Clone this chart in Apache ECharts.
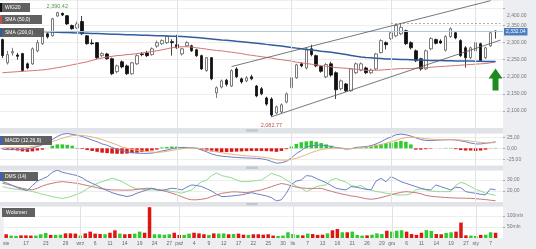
<!DOCTYPE html>
<html><head><meta charset="utf-8">
<script src="https://cdn.jsdelivr.net/npm/echarts@6/dist/echarts.min.js"></script>
<style>html,body{margin:0;padding:0;background:#eceef1;}#c{width:536px;height:249px;}</style>
</head><body><div id="c"></div>
<script>
const dates = [
'2018-08-10','2018-08-13','2018-08-14','2018-08-16','2018-08-17','2018-08-20','2018-08-21','2018-08-22','2018-08-23','2018-08-24',
'2018-08-27','2018-08-28','2018-08-29','2018-08-30','2018-08-31',
'2018-09-03','2018-09-04','2018-09-05','2018-09-06','2018-09-07','2018-09-10','2018-09-11','2018-09-12','2018-09-13','2018-09-14',
'2018-09-17','2018-09-18','2018-09-19','2018-09-20','2018-09-21','2018-09-24','2018-09-25','2018-09-26','2018-09-27','2018-09-28',
'2018-10-01','2018-10-02','2018-10-03','2018-10-04','2018-10-05','2018-10-08','2018-10-09','2018-10-10','2018-10-11','2018-10-12',
'2018-10-15','2018-10-16','2018-10-17','2018-10-18','2018-10-19','2018-10-22','2018-10-23','2018-10-24','2018-10-25','2018-10-26',
'2018-10-29','2018-10-30','2018-10-31',
'2018-11-02','2018-11-05','2018-11-06','2018-11-07','2018-11-08','2018-11-09','2018-11-13','2018-11-14','2018-11-15','2018-11-16',
'2018-11-19','2018-11-20','2018-11-21','2018-11-22','2018-11-23','2018-11-26','2018-11-27','2018-11-28','2018-11-29','2018-11-30',
'2018-12-03','2018-12-04','2018-12-05','2018-12-06','2018-12-07','2018-12-10','2018-12-11','2018-12-12','2018-12-13','2018-12-14',
'2018-12-17','2018-12-18','2018-12-19','2018-12-20','2018-12-21','2018-12-27','2018-12-28',
'2019-01-02','2019-01-03','2019-01-04','2019-01-07','2019-01-08','2019-01-09'];

const tickLabels = [['2018-08-10','sie'],['2018-08-17','17'],['2018-08-23','23'],['2018-08-29','29'],['2018-09-03','wrz'],
['2018-09-06','6'],['2018-09-11','11'],['2018-09-14','14'],['2018-09-19','19'],['2018-09-24','24'],['2018-09-27','27'],
['2018-10-01','paź'],['2018-10-04','4'],['2018-10-09','9'],['2018-10-12','12'],['2018-10-17','17'],['2018-10-22','22'],
['2018-10-25','25'],['2018-10-30','30'],['2018-11-02','lis'],['2018-11-07','7'],['2018-11-13','13'],['2018-11-16','16'],
['2018-11-21','21'],['2018-11-26','26'],['2018-11-29','29'],['2018-12-03','gru'],['2018-12-06','6'],['2018-12-11','11'],
['2018-12-14','14'],['2018-12-19','19'],['2018-12-27','27'],['2019-01-02','sty'],['2019-01-07','7']];

const monthStarts = ['2018-09-03','2018-10-01','2018-11-02','2018-12-03','2019-01-02'];

// [open, close, low, high]
const ohlc = [
[2309,2262,2255,2312],[2241,2265,2236,2276],[2270,2274,2262,2285],[2264,2260,2250,2270],[2268,2218,2215,2270],
[2238,2226,2222,2242],[2238,2282,2235,2286],[2276,2300,2272,2308],[2297,2326,2293,2332],[2326,2317,2312,2330],
[2320,2370,2318,2373],[2378,2388,2376,2390.42],[2386,2381,2378,2388],[2379,2355,2352,2381],[2350,2341,2338,2353],
[2343,2355,2340,2362],[2362,2326,2322,2378],[2320,2297,2294,2322],[2299,2297,2294,2310],[2300,2256,2252,2302],
[2262,2268,2258,2272],[2267,2253,2250,2270],[2253,2209,2205,2256],[2215,2232,2210,2236],[2244,2229,2225,2248],
[2232,2209,2205,2236],[2209,2241,2206,2244],[2238,2262,2235,2266],[2267,2265,2260,2272],[2270,2262,2258,2276],
[2265,2282,2262,2286],[2290,2300,2285,2306],[2297,2306,2293,2310],[2300,2318,2296,2322],[2303,2300,2262,2310],
[2294,2285,2282,2323],[2267,2282,2262,2285],[2291,2300,2288,2304],[2291,2276,2273,2294],[2279,2262,2258,2282],
[2262,2223,2220,2265],[2218,2256,2215,2258],[2256,2194,2190,2258],[2153,2168,2138,2172],[2170,2188,2166,2192],
[2190,2178,2172,2194],[2173,2218,2170,2222],[2223,2200,2196,2228],[2194,2185,2180,2198],[2188,2197,2184,2202],
[2200,2194,2190,2206],[2173,2144,2140,2176],[2165,2150,2146,2170],[2138,2120,2115,2142],[2135,2088,2082.77,2140],
[2094,2112,2090,2116],[2097,2118,2093,2122],[2126,2150,2122,2154],[2168,2197,2164,2200],[2197,2235,2194,2238],
[2238,2232,2228,2242],[2226,2282,2222,2286],[2282,2265,2260,2294],[2262,2232,2228,2265],[2230,2216,2212,2234],
[2200,2236,2196,2240],[2238,2205,2200,2244],[2212,2162,2135,2216],[2165,2188,2160,2192],[2179,2159,2155,2182],
[2159,2223,2156,2226],[2212,2238,2208,2242],[2220,2238,2216,2242],[2226,2212,2208,2230],[2212,2220,2208,2224],
[2223,2267,2220,2270],[2271,2306,2268,2310],[2300,2294,2280,2304],[2312,2329,2308,2333],[2320,2350,2316,2354],
[2326,2345,2322,2357],[2335,2297,2293,2338],[2300,2285,2280,2304],[2276,2247,2243,2280],[2253,2223,2218,2256],
[2223,2276,2220,2280],[2282,2312,2278,2316],[2309,2298,2295,2312],[2305,2299,2296,2310],[2278,2318,2274,2322],
[2318,2341,2314,2345],[2329,2314,2310,2333],[2306,2262,2258,2310],[2285,2256,2227,2290],[2256,2285,2252,2288],
[2276,2300,2272,2304],[2297,2247,2244,2300],[2256,2285,2252,2288],[2291,2329,2288,2332],[2334,2332.04,2312,2336]];

const sma50 = [2212,2213,2214,2215,2216,2217,2218,2219,2220,2222,2224,2227,2229,2232,2235,2238,2241,2244,2248,2252,
2255,2258,2260,2262,2263,2265,2266,2268,2270,2272,2274,2276,2279,2282,2285,2287,2288,2288,2287,2285,
2283,2281,2279,2277,2276,2274,2272,2270,2268,2265,2263,2261,2259,2257,2255,2252,2250,2248,2246,2243,
2241,2239,2237,2235,2233,2231,2229,2227,2226,2225,2224,2222,2220,2219,2219,2219,2220,2221,2222,2223,
2224,2224,2224,2225,2226,2227,2228,2229,2230,2231,2232,2233,2234,2235,2236,2237,2238,2239,2241,2244];

const sma200 = [2337,2336.5,2336,2335.5,2335,2334.5,2334,2333,2332.5,2332,2331,2330.5,2330,2329.5,2329,2328.5,2328,2327.5,2327,2326.5,
2326,2325.5,2325,2324.5,2324,2323.5,2323,2322.5,2322,2321.5,2321,2320.5,2320,2319.5,2319,2318.5,2318,2317,2316,2315,
2314,2312.5,2311,2309.5,2308,2307,2305.5,2304,2303,2301.5,2300,2298.5,2297,2295,2293.5,2292,2290,2288,2286,2284,
2282,2280,2278.5,2277,2275,2273.5,2272,2270,2267.5,2265,2262.5,2260,2258,2256.5,2255.5,2254.5,2253.5,2252.5,2252,2251.5,
2251,2250.5,2250,2249.5,2249,2248.5,2248,2247.5,2247.5,2247,2247,2246.5,2246.5,2246,2246,2245.5,2245.5,2245,2245,2245];

const volume = [17,11,9,12,12,11,11,17,23,14, 14,15,21,21,20,11,21,29,20,18, 17,24,35,20,17,18,20,29,24,140,
17,17,15,17,24,14,14,20,24,21, 17,14,21,20,21,17,18,20,15,14, 17,17,15,17,11,9,11,26,18,14,
12,20,18,14,15,21,35,41,26,26, 29,14,11,12,15,21,18,33,29,33, 35,29,18,14,24,36,32,18,17,23,
26,29,70,12,11,9,14,15,26,24];

const macdLine = [-2,-3,-3,-2.5,-3,-2,1,4,8,13, 20,27,32,34,32,30,27,23,19,15, 10,7,2,-2,-5,-8,-10,-11,-11.5,-11.5,
-11,-9,-6,-4,-1,1,2,2,1.5,0, -4,-8,-13,-16,-18,-19,-20,-21,-21.5,-22, -22.5,-23,-24,-26,-30,-34,-33,-30,-22,-12,
-5,3,6,7,7.5,6,4,2,0,-2, -1,2,3,4,6,10,15,21,26,31, 32.5,31,28,24,20,18,18,18.5,19,19.5, 20,19,17,15,12,10,10,11.5,13,15];

const macdSignal = [1,1.5,2,2,2,2,4,6.5,9,12, 15,19,23,26.5,29,30,29.5,28,26,23, 20,16,12,8,3,0,-2.5,-4.5,-6,-7.5,
-8.5,-9,-8.5,-7,-5,-3,-1,0.5,1,0.5, -1,-3,-5.5,-8,-10,-12,-13.5,-15,-16,-17, -18,-19,-20,-21.5,-23.5,-26,-27,-27,-25.5,-23,
-19,-14.5,-10,-6,-3,-1,0.5,1,0.5,-0.5, -0.5,0.5,1.5,2.5,4,6,8.5,11.5,15,18.5, 22,24.5,25.5,25,23.5,22,21,20,19.5,19.5,
19.5,19.5,19,18,16.5,15,13.5,12.5,12.5,13];

const macdHist = [-1,-3,-4,-5,-7,-8,-7,-5,-3,0, 6,9,9,8,6,-1,-1.5,-4,-6,-8, -10,-11,-12,-12.5,-12.5,-12,-11,-10,-8.5,-7,
-5,-3,2,3,4,4,3,2,1.5,1, -3,-5,-7,-8,-8.5,-8.5,-8,-7.5,-7,-6.5, -6,-6,-6,-6.5,-7,-8,-6,-2,4,10,
14,16,17,15,12,9,6,3,1,-1, 0.5,2,2,3,5,8,10,12,13,15, 17,15,9,-3,-3,-2,-1,0,0.5,1, 1,-2,-4,-5,-5,-6,-5,-3,-0.5,1];

const dmsPlus = [28.5,27,25,23,21.5,20.5,25,29,31,33, 37,39,37,36,35,34,32,29,27,25, 22.5,20.5,18.5,17,16,15,16,18,19.5,21,
22.5,21,20.5,21.5,22.5,22,21,23.5,25.5,25, 24,22,20,17,15,15,15.5,16,16.5,17.5, 18.5,17.5,16.5,15.5,14,11,12,18,26,29,
30,34,33.5,31.5,29.5,27.5,25,22.5,21.5,21, 24,23.5,22.5,21.5,21,29,31.5,28.5,33,31, 28.5,27,25.5,24,22.5,21.5,21,25.5,24,22.5,
21,23.5,23,19.5,18.5,18,17,16.5,22,21];

const dmsMinus = [24,23,22,21.5,21,20.5,19.5,18.5,17,16, 15,14,13.3,14,15.5,17,19,22,24.5,27, 28.5,30,31.5,30.5,28.5,26,23.5,22,21.5,21,
21,21,21,20.5,19.5,19,18,19.5,21,25, 28.5,30,34,36.5,34,33,32,30,28.5,28.5, 29,29.5,30,33,36,34.5,33,30,27,24.5,
22.5,19.5,21.5,24,25,25.5,30,31.5,29.5,28, 25,24,25,22,21,19.5,19,18,17.5,16.5, 16.4,16.4,17.5,21,22,21,20,19.5,19.4,19.4,
19.5,25,27.9,26.5,24,21.5,20,18,17,16];

const dmsAdx = [27,26,25,23.5,22.5,21.5,21,22.5,24.5,26, 27,28,28.5,28,27.5,27,26,25,24,23, 22,21.5,21,20.9,20.8,20.8,20.9,21.5,22,22.5,
22.4,21.5,20.5,19.4,18,16.5,14.8,13,12,12, 12.5,13.3,15,16.5,17.9,18.5,19.2,19.2,18.8,18.5, 19.3,20.2,21,22.5,24,25.5,26.8,26,24.8,23.5,
22.8,22.4,22.4,22.4,22.4,21,19.8,18.5,17.5,16.5, 15.5,15,14,13,12.5,13,14,15.2,16.5,17.8, 18.8,19.4,19,18.5,17.5,16,15.2,14.8,14.4,14.1,
13.8,13.6,13.5,13.4,13.3,13,12.6,12.2,11.6,11.2];

const lastPrice = 2332.04;
const resistanceLevel = 2357;
const resistanceFrom = '2018-12-03';
const upperTrend = [['2018-10-16', 2230], ['2019-01-07', 2423]];
const lowerTrend = [['2018-10-26', 2082.77], ['2019-01-09', 2307.5]];
const signalArrow = ['2019-01-08', 2192];

// ---------- helpers ----------
function fmtPrice(v) {
  const s = Number(v).toFixed(2).split('.');
  return s[0].replace(/\B(?=(\d{3})+(?!\d))/g, ',') + '.' + s[1];
}
function fmtComma(v) { return Number(v).toFixed(2).replace('.', ','); }
const labelMap = new Map(tickLabels);
let hiIdx = 0, loIdx = 0;
ohlc.forEach((d, i) => { if (d[3] > ohlc[hiIdx][3]) hiIdx = i; if (d[2] < ohlc[loIdx][2]) loIdx = i; });
const volData = volume.map((v, i) => ({ value: v, itemStyle: { color: ohlc[i][1] >= ohlc[i][0] ? '#2fcc2f' : '#dd1515' } }));
const histData = macdHist.map(v => ({ value: v, itemStyle: { color: v >= 0 ? '#2fcc2f' : '#dd1515' } }));

const FONT = 'Liberation Sans';
const GL = -2.5, GR = 33;
const grids = [
  { left: GL, right: GR, top: 0, height: 128 },
  { left: GL, right: GR, top: 133, height: 37.2 },
  { left: GL, right: GR, top: 170.1, height: 31.9 },
  { left: GL, right: GR, top: 206.1, height: 31.9 }
].map(g => Object.assign(g, { show: true, backgroundColor: '#ffffff', borderWidth: 0 }));

const xAxes = grids.map((g, k) => ({
  type: 'category', gridIndex: k, data: dates, boundaryGap: true,
  axisLine: { show: false }, axisTick: { show: false }, splitLine: { show: false },
  axisLabel: k === 3 ? {
    show: true, interval: (i, v) => labelMap.has(v), formatter: v => labelMap.get(v) || '',
    fontSize: 5, color: '#666', margin: 3, fontFamily: FONT
  } : { show: false }
}));

function yAx(k, min, max, interval, fmt, extra) {
  return Object.assign({
    type: 'value', gridIndex: k, position: 'right', min, max, interval,
    axisLine: { show: false },
    axisTick: { show: true, length: 2, lineStyle: { color: '#aaa' } },
    splitLine: { show: true, lineStyle: { color: '#eeeeee', width: 1 } },
    axisLabel: { show: true, showMinLabel: false, showMaxLabel: false, formatter: fmt,
      fontSize: 5, color: '#777', margin: 4, fontFamily: FONT }
  }, extra || {});
}
const yAxes = [
  yAx(0, 2050, 2425, 50, v => v === 2400 ? '{d|' + fmtPrice(v) + '}' : fmtPrice(v)),
  yAx(1, -50, 35, 25, fmtComma),
  yAx(2, 10, 39, 10, fmtComma),
  yAx(3, 0, 145, 50, v => v + 'mln')
];
yAxes[0].axisLabel.rich = { d: { padding: [14, 0, 0, 0], fontSize: 5, color: '#777', fontFamily: FONT } };

const monthLineSeries = grids.map((g, k) => ({
  type: 'line', xAxisIndex: k, yAxisIndex: k, data: [], z: 1, silent: true,
  markLine: { symbol: ['none', 'none'], silent: true, label: { show: false },
    lineStyle: { color: '#e2e2e2', width: 1, type: 'solid' },
    data: monthStarts.map(d => ({ xAxis: d })) }
}));

const lineS = (k, data, color, width, z) => ({
  type: 'line', xAxisIndex: k, yAxisIndex: k, data, symbol: 'none', silent: true, z: z || 3,
  lineStyle: { color, width: width || 1 }
});

const option = {
  animation: false,
  textStyle: { fontFamily: FONT },
  grid: grids, xAxis: xAxes, yAxis: yAxes,
  series: [
    ...monthLineSeries,
    {
      type: 'candlestick', xAxisIndex: 0, yAxisIndex: 0, data: ohlc, barWidth: 3, z: 2,
      itemStyle: { color: '#ffffff', color0: '#111111', borderColor: '#5a5a5a', borderColor0: '#111111', borderWidth: 0.8 },
      markLine: {
        symbol: ['none', 'none'], silent: true, label: { show: false },
        data: [
          { yAxis: lastPrice, lineStyle: { color: '#b3c6de', width: 1, type: 'solid' },
            label: { show: true, position: 'end', distance: 1, formatter: fmtPrice(lastPrice), color: '#fff',
              backgroundColor: '#4b7cc0', padding: [1.5, 2, 1, 2], fontSize: 5, fontFamily: FONT } },
          [{ coord: [resistanceFrom, resistanceLevel], lineStyle: { color: '#999', width: 0.8, type: [2, 2] } },
           { coord: [dates[dates.length - 1], resistanceLevel] }],
          [{ coord: upperTrend[0], lineStyle: { color: '#555', width: 0.8, type: 'solid' } }, { coord: upperTrend[1] }],
          [{ coord: lowerTrend[0], lineStyle: { color: '#555', width: 0.8, type: 'solid' } }, { coord: lowerTrend[1] }]
        ]
      },
      markPoint: {
        silent: true,
        data: [
          { coord: [dates[hiIdx], ohlc[hiIdx][3]], symbol: 'circle', symbolSize: 1, itemStyle: { color: 'rgba(0,0,0,0)' },
            label: { show: true, position: 'top', distance: 2, formatter: fmtPrice(ohlc[hiIdx][3]), color: '#4f9a3f', fontSize: 5.5, fontFamily: FONT } },
          { coord: [dates[loIdx], ohlc[loIdx][2]], symbol: 'circle', symbolSize: 1, itemStyle: { color: 'rgba(0,0,0,0)' },
            label: { show: true, position: 'bottom', distance: 5, formatter: fmtPrice(ohlc[loIdx][2]), color: '#c0504d', fontSize: 5.5, fontFamily: FONT } },
          { coord: signalArrow, symbol: 'path://M7,0 L14,10 L10,10 L10,22 L4,22 L4,10 L0,10 Z', symbolSize: [14, 22],
            itemStyle: { color: '#1f8a1f' }, label: { show: false } }
        ]
      }
    },
    lineS(0, sma50, '#d27474', 1, 4),
    lineS(0, sma200, '#2f5e9e', 1.5, 4),
    { type: 'bar', xAxisIndex: 1, yAxisIndex: 1, data: histData, barWidth: 3.5, silent: true, z: 2 },
    lineS(1, macdLine, '#6b7fc6', 1),
    lineS(1, macdSignal, '#e9b27a', 1),
    lineS(2, dmsMinus, '#8fdc8f', 1),
    lineS(2, dmsAdx, '#c97878', 1),
    lineS(2, dmsPlus, '#6b7fc6', 1),
    { type: 'bar', xAxisIndex: 3, yAxisIndex: 3, data: volData, barWidth: 3.5, silent: true, z: 2 }
  ],
  graphic: [
    { type: 'rect', z: 100, silent: true, shape: { x: 0, y: 128, width: 503, height: 5 }, style: { fill: '#e0e4e9' } },
    { type: 'rect', z: 100, silent: true, shape: { x: 0, y: 165.5, width: 503, height: 4.6 }, style: { fill: '#e0e4e9' } },
    { type: 'rect', z: 100, silent: true, shape: { x: 0, y: 202, width: 503, height: 4.1 }, style: { fill: '#e0e4e9' } },
    { type: 'rect', z: 101, silent: true, shape: { x: 246, y: 129.3, width: 12, height: 2.4, r: 1 }, style: { fill: '#c2c7cd' } },
    { type: 'rect', z: 101, silent: true, shape: { x: 246, y: 166.6, width: 12, height: 2.4, r: 1 }, style: { fill: '#c2c7cd' } },
    { type: 'rect', z: 101, silent: true, shape: { x: 246, y: 202.9, width: 12, height: 2.4, r: 1 }, style: { fill: '#c2c7cd' } },
    ...[
      ['WIG20', 0, 3, 30, '#111111'],
      ['SMA (50,0)', 0, 15, 42, '#c0504d'],
      ['SMA (200,0)', 0, 28, 44, '#2f5e9e'],
      ['MACD (12,26,9)', 0, 136, 52, '#3b5fc0'],
      ['DMS (14)', 0, 172, 38, '#3b5fc0'],
      ['Wolumen', 2, 208, 33, null]
    ].map(([t, x, y, w, mk]) => ({
      type: 'group', x, y, z: 110, silent: true,
      children: [
        { type: 'rect', shape: { x: 0, y: 0, width: w, height: 9 }, style: { fill: 'rgba(84,84,84,0.92)' }, z: 110 },
        ...(mk ? [{ type: 'rect', shape: { x: 0, y: 0, width: 2, height: 9 }, style: { fill: mk }, z: 111 }] : []),
        { type: 'text', x: mk ? 5 : 4, y: 4.7, z: 112,
          style: { text: t, fill: '#ffffff', fontSize: 5, fontFamily: FONT, verticalAlign: 'middle', align: 'left' } }
      ]
    }))
  ]
};

const chart = echarts.init(document.getElementById('c'), null, { renderer: 'canvas' });
chart.setOption(option);
</script>
</body></html>
